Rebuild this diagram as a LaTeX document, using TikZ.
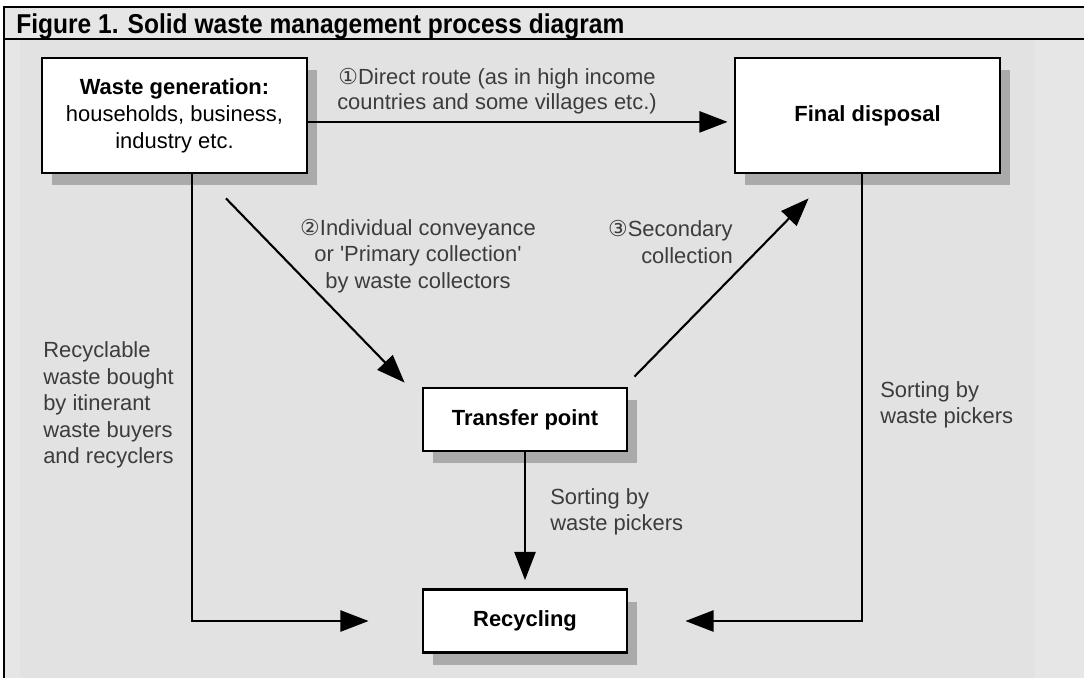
\documentclass[tikz,border=0pt]{standalone}
\usepackage{fontspec}
\setmainfont{Liberation Sans}
\newfontfamily\circfont{DejaVu Sans}
\newfontfamily\titlefont[FakeStretch=0.9]{Liberation Sans}
\usetikzlibrary{shapes,arrows.meta,positioning,shadows,calc}
\definecolor{framegray}{RGB}{230,230,230}
\definecolor{panelgray}{RGB}{226,226,226}
\definecolor{labelgray}{RGB}{60,60,60}
\definecolor{shadowgray}{RGB}{170,170,170}

\begin{document}
\begin{tikzpicture}[
    x=0.025cm, y=-0.025cm,
    box/.style={draw, fill=white, line width=2pt, minimum width=6.625cm, minimum height=2.875cm, inner sep=0pt, align=center, font=\fontsize{15.6pt}{19.2pt}\selectfont, drop shadow={shadow xshift=0.25cm, shadow yshift=-0.3cm, fill=shadowgray, opacity=1}},
    smallbox/.style={box, minimum width=5.1cm, minimum height=1.575cm},
    arrow/.style={-{Triangle[length=20pt, width=15pt]}, line width=1.5pt},
    note/.style={text=labelgray, inner sep=0pt, font=\fontsize{15.6pt}{18.8pt}\selectfont}
]
    \useasboundingbox (0,0) rectangle (1084,678);
    \fill[white] (0,0) rectangle (1084,678);
    \fill[framegray] (4,7) rectangle (1084,678);
    \fill[panelgray] (20,40) rectangle (1035,678);
    \draw[line width=1.5pt] (1084,7) -- (4,7) -- (4,678);
    \draw[line width=1.5pt] (4,39) -- (1084,39);

    \node[anchor=base west, inner sep=0pt, font=\titlefont\bfseries\fontsize{19.4pt}{22pt}\selectfont] (title) at (16,33) {Figure 1. Solid waste management process diagram};

    \node[box] (wg) at (174.5,115.5) {\textbf{Waste generation:}\\households, business,\\industry etc.};
    \node[box] (fd) at (867.5,115.5) {\textbf{Final disposal}};
    \node[smallbox] (tp) at (525,419.5) {\textbf{Transfer point}};
    \node[smallbox] (rc) at (525,621) {\textbf{Recycling}};

    \draw[arrow, shorten >=0.15cm] ([yshift=-0.16cm]wg.east) -- ([yshift=-0.16cm]fd.west);
    \draw[arrow] ($(wg.south)+(51.5,24)$) -- ($(tp.north west)+(-17,-4)$);
    \draw[arrow] ($(tp.north east)+(6,-10)$) -- ($(fd.south west)+(75,24)$);
    \draw[arrow, shorten >=0.2cm] (tp.south) -- (rc.north);
    \draw[arrow] ($(wg.south)+(17.5,0)$) |- ($(rc.west)+(-53,0)$);
    \draw[arrow] ($(fd.south)+(-5.5,0)$) |- ($(rc.east)+(57,0)$);

    \node[note, align=center, font=\fontsize{15.6pt}{17.5pt}\selectfont] (direct) at (497,91) {{\circfont ①}Direct route (as in high income\\countries and some villages etc.)};
    \node[note, align=center] (primary) at (418,256) {{\circfont ②}Individual conveyance\\or \textquotesingle Primary collection\textquotesingle\\by waste collectors};
    \node[note, align=right, anchor=east] (secondary) at (733,242) {{\circfont ③}Secondary\\collection};
    \node[note, align=left, anchor=west] (itinerant) at (43,405) {Recyclable\\waste bought\\by itinerant\\waste buyers\\and recyclers};
    \node[note, align=left, anchor=west] (pickright) at (880,405) {Sorting by\\waste pickers};
    \node[note, align=left, anchor=west] (pickmid) at (550,512) {Sorting by\\waste pickers};
\end{tikzpicture}
\end{document}
